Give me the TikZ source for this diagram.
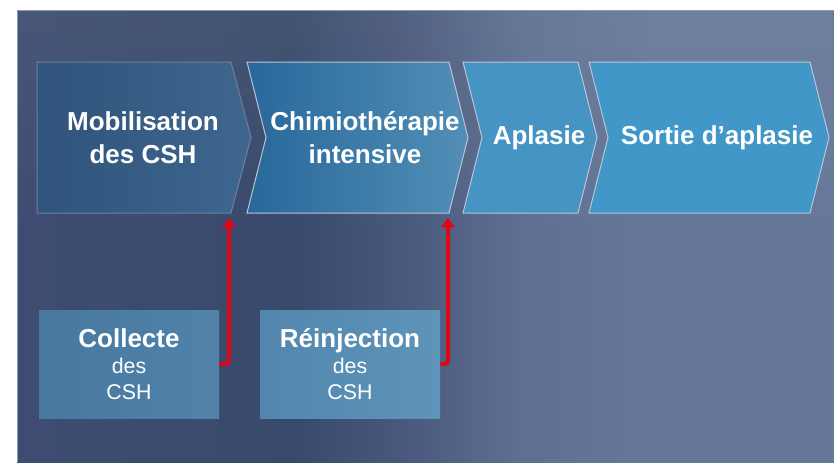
\documentclass[tikz,border=0pt]{standalone}
\usepackage{fontspec}
\setmainfont{Liberation Sans}
\usetikzlibrary{calc,arrows.meta,fadings}

\definecolor{bordfond}{RGB}{140,152,176}
\definecolor{bordun}{RGB}{112,128,156}
\definecolor{bordclair}{RGB}{185,196,214}
\definecolor{rouge}{RGB}{222,6,22}
\pgfdeclarehorizontalshading{fond}{100bp}{rgb(0bp)=(0.24,0.30,0.44); rgb(25bp)=(0.24,0.30,0.44); rgb(42bp)=(0.22,0.29,0.42); rgb(49bp)=(0.29,0.35,0.49); rgb(56bp)=(0.37,0.44,0.57); rgb(64bp)=(0.40,0.47,0.60); rgb(75bp)=(0.40,0.47,0.60); rgb(100bp)=(0.40,0.47,0.60)}

\tikzset{
  etape/.style={text=white, align=center, font=\fontsize{19.5}{24.5}\selectfont\bfseries},
  boite/.style={text=white, align=center, minimum width=135pt, minimum height=81pt, inner sep=0pt, font=\fontsize{16}{19.5}\selectfont},
  fleche/.style={draw=rouge, line width=3pt, rounded corners=2.5pt, -{Triangle[length=7pt,width=10pt]}}
}

\begin{document}
\begin{tikzpicture}[x=0.75pt,y=0.75pt,yscale=-1,xscale=1]
\useasboundingbox (0,0) rectangle (834,462);
%Background
\shade[shading=fond] (17,10) rectangle (834,462);
\fill[white, fill opacity=0.06, path fading=south] (17,10) rectangle (834,240);
\draw[bordfond, line width=0.75pt] (17,462) -- (17,10) -- (834,10);
%Chevron 1
\draw[bordun, line width=0.75pt, left color={rgb,255:red,48;green,84;blue,124}, right color={rgb,255:red,62;green,102;blue,142}] (37,62) -- (231,62) -- (251,137.5) -- (231,213) -- (37,213) -- cycle;
%Chevron 2
\draw[bordclair, line width=0.75pt, left color={rgb,255:red,40;green,104;blue,154}, right color={rgb,255:red,82;green,142;blue,182}] (247,62) -- (449,62) -- (468,137.5) -- (449,213) -- (247,213) -- (266,137.5) -- cycle;
%Chevron 3
\draw[bordclair, line width=0.75pt, fill={rgb,255:red,70;green,148;blue,196}] (463,62) -- (578,62) -- (597,137.5) -- (578,213) -- (463,213) -- (482,137.5) -- cycle;
%Chevron 4
\draw[bordclair, line width=0.75pt, fill={rgb,255:red,65;green,152;blue,200}] (589,62) -- (810,62) -- (829,137.5) -- (810,213) -- (589,213) -- (608,137.5) -- cycle;
\coordinate (cible1) at (229,218);
\coordinate (cible2) at (448,218);

\node[etape] (mobil) at (143,137.5) {Mobilisation\\des CSH};
\node[etape] (chimio) at (365,137.5) {Chimiothérapie\\intensive};
\node[etape] (aplasie) at (539,137.5) {Aplasie};
\node[etape] (sortie) at (717,137.5) {Sortie d’aplasie};

\node[boite, left color={rgb,255:red,72;green,120;blue,160}, right color={rgb,255:red,80;green,130;blue,170}] (collecte) at (129,364) {{\fontsize{19.5}{19.5}\selectfont\bfseries Collecte}\\des\\CSH};
\node[boite, left color={rgb,255:red,82;green,134;blue,174}, right color={rgb,255:red,94;green,148;blue,186}] (reinj) at (350,364) {{\fontsize{19.5}{19.5}\selectfont\bfseries Réinjection}\\des\\CSH};

\draw[fleche] (collecte.east) -| (cible1);
\draw[fleche] (reinj.east) -| (cible2);
\end{tikzpicture}
\end{document}
